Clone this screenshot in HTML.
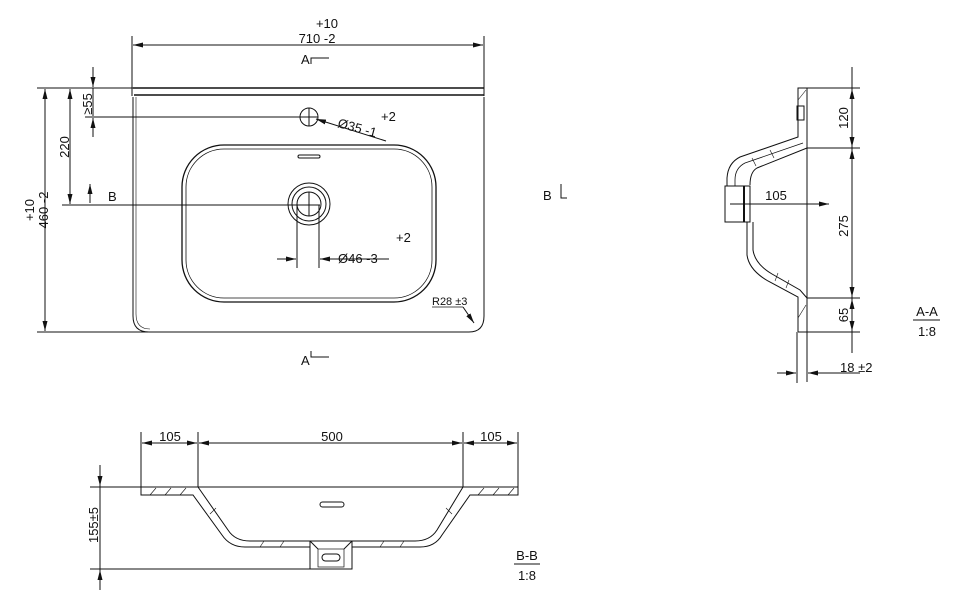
<!DOCTYPE html>
<html><head><meta charset="utf-8"><style>
html,body{margin:0;padding:0;background:#fff;}
svg{display:block;}
text{font-family:"Liberation Sans",sans-serif;fill:#111;}
</style></head><body>
<svg width="962" height="609" viewBox="0 0 962 609" xmlns="http://www.w3.org/2000/svg">
<defs>
<marker id="ar" viewBox="0 0 10 6" refX="10" refY="3" markerWidth="10" markerHeight="6" orient="auto-start-reverse" markerUnits="userSpaceOnUse"><path d="M0,0.5 L10,3 L0,5.5z" fill="#111"/></marker>
</defs>
<g fill="none" stroke="#111" stroke-width="1">
<!-- PLAN VIEW -->
<line x1="132" y1="36" x2="132" y2="96"/><line x1="484" y1="36" x2="484" y2="96"/>
<line x1="133" y1="45" x2="483" y2="45" marker-start="url(#ar)" marker-end="url(#ar)"/>
<path d="M311,64 V58 H329"/>
<line x1="133" y1="88" x2="484" y2="88" stroke-width="1.5"/>
<line x1="134" y1="95" x2="484" y2="95" stroke-width="1.5"/>
<path d="M133,97 V316 Q133,332 149,332 H469 Q484,332 484,316 V97"/>
<path d="M136,97 V314 Q136,329 150,329" stroke-width="0.6"/>
<rect x="182" y="145" width="254" height="157" rx="42" stroke-width="1.3"/>
<rect x="186" y="149" width="246" height="149" rx="38" stroke-width="0.8"/>
<rect x="298" y="155" width="22" height="3" rx="1.5"/>
<circle cx="309" cy="117" r="9"/>
<line x1="300" y1="117" x2="318" y2="117"/><line x1="309" y1="108" x2="309" y2="126"/>
<circle cx="309" cy="204" r="21"/><circle cx="309" cy="204" r="17"/><circle cx="309" cy="204" r="12"/>
<line x1="309" y1="192" x2="309" y2="216"/>
<!-- left dims -->
<line x1="37" y1="88" x2="133" y2="88"/><line x1="37" y1="332" x2="148" y2="332"/>
<line x1="45" y1="89" x2="45" y2="331" marker-start="url(#ar)" marker-end="url(#ar)"/>
<line x1="70" y1="89" x2="70" y2="204" marker-start="url(#ar)" marker-end="url(#ar)"/>
<line x1="62" y1="205" x2="320" y2="205"/>
<line x1="93" y1="67" x2="93" y2="87" marker-end="url(#ar)"/>
<line x1="93" y1="137" x2="93" y2="118" marker-end="url(#ar)"/>
<line x1="93" y1="88" x2="93" y2="116"/>
<line x1="85" y1="117" x2="309" y2="117"/>
<line x1="90" y1="203" x2="90" y2="184" marker-end="url(#ar)"/>
<line x1="386" y1="141" x2="316" y2="119" marker-end="url(#ar)"/>
<line x1="297" y1="205" x2="297" y2="268"/><line x1="319" y1="205" x2="319" y2="268"/>
<line x1="277" y1="259" x2="296" y2="259" marker-end="url(#ar)"/>
<line x1="389" y1="259" x2="320" y2="259" marker-end="url(#ar)"/>
<line x1="432" y1="307" x2="463" y2="307" stroke-width="0.7"/>
<line x1="463" y1="307" x2="474" y2="323" marker-end="url(#ar)"/>
<path d="M311,351 V357 H329"/>
<path d="M561,184 V198 H567"/>

<!-- SIDE VIEW A-A -->
<line x1="852" y1="67" x2="852" y2="353"/>
<g marker-start="url(#ar)" marker-end="url(#ar)">
<line x1="852" y1="89" x2="852" y2="147"/>
<line x1="852" y1="149" x2="852" y2="297"/>
<line x1="852" y1="299" x2="852" y2="331"/>
</g>
<line x1="798" y1="88" x2="860" y2="88"/><line x1="807" y1="148" x2="860" y2="148"/>
<line x1="807" y1="298" x2="860" y2="298"/><line x1="798" y1="332" x2="860" y2="332"/>
<line x1="807" y1="88" x2="807" y2="382"/><line x1="797" y1="332" x2="797" y2="383"/>
<path d="M807,88 H798 V137 L740,157 Q728,163 727,178 V186"/>
<path d="M803,143 L745,163 Q735,168 735,180 V186" stroke-width="0.8"/>
<path d="M807,148 L757,168 Q750,172 750,185"/>
<rect x="797" y="106" width="7" height="14"/>
<path d="M725,186 H750 V222 H725 Z"/>
<line x1="744" y1="186" x2="744" y2="222" stroke-width="2"/>
<path d="M747,222 V255 Q749,270 768,281 L798,297 V332"/>
<path d="M753,222 V250 Q755,264 772,274 L800,290 L807,298"/>
<g stroke-width="0.6"><line x1="798" y1="100" x2="806" y2="90"/><line x1="798" y1="318" x2="806" y2="305"/><line x1="770" y1="150" x2="774" y2="158"/><line x1="752" y1="158" x2="756" y2="166"/><line x1="775" y1="281" x2="778" y2="273"/><line x1="786" y1="288" x2="789" y2="280"/></g>
<line x1="730" y1="204" x2="829" y2="204" marker-end="url(#ar)"/>
<line x1="777" y1="373" x2="796" y2="373" marker-end="url(#ar)"/>
<line x1="860" y1="373" x2="808" y2="373" marker-end="url(#ar)"/>
<line x1="913" y1="320" x2="940" y2="320"/>

<!-- SECTION B-B -->
<line x1="141" y1="432" x2="141" y2="487"/><line x1="198" y1="432" x2="198" y2="487"/>
<line x1="463" y1="432" x2="463" y2="487"/><line x1="518" y1="432" x2="518" y2="487"/>
<line x1="142" y1="443" x2="197" y2="443" marker-start="url(#ar)" marker-end="url(#ar)"/>
<line x1="199" y1="443" x2="462" y2="443" marker-start="url(#ar)" marker-end="url(#ar)"/>
<line x1="464" y1="443" x2="517" y2="443" marker-start="url(#ar)" marker-end="url(#ar)"/>
<line x1="90" y1="487" x2="518" y2="487"/>
<path d="M141,487 V495 H193 L222,535 Q230,547 245,547 H310"/>
<path d="M198,487 L228,530 Q235,541 250,541 H415 Q430,541 437,530 L463,487"/>
<path d="M352,547 H420 Q435,547 442,535 L470,495 H518 V487"/>
<path d="M310,541 V569 H352 V541"/>
<line x1="310" y1="541" x2="318" y2="549"/><line x1="352" y1="541" x2="344" y2="549"/>
<rect x="318" y="549" width="26" height="18" stroke-width="0.7"/>
<rect x="322" y="554" width="18" height="7" rx="3.5"/>
<rect x="320" y="502" width="24" height="5" rx="2.5"/>
<g stroke-width="0.6"><line x1="150" y1="495" x2="156" y2="488"/><line x1="165" y1="495" x2="171" y2="488"/><line x1="180" y1="495" x2="186" y2="488"/><line x1="478" y1="495" x2="484" y2="488"/><line x1="493" y1="495" x2="499" y2="488"/><line x1="508" y1="495" x2="514" y2="488"/><line x1="260" y1="547" x2="264" y2="541"/><line x1="280" y1="547" x2="284" y2="541"/><line x1="380" y1="547" x2="384" y2="541"/><line x1="400" y1="547" x2="404" y2="541"/><line x1="210" y1="514" x2="216" y2="508"/><line x1="452" y1="514" x2="446" y2="508"/></g>
<line x1="90" y1="569" x2="312" y2="569"/>
<line x1="100" y1="465" x2="100" y2="590"/>
<line x1="100" y1="465" x2="100" y2="486" marker-end="url(#ar)"/>
<line x1="100" y1="590" x2="100" y2="570" marker-end="url(#ar)"/>
<line x1="514" y1="564" x2="540" y2="564"/>
</g>
<g font-size="13">
<text x="327" y="28" text-anchor="middle">+10</text>
<text x="317" y="43" text-anchor="middle">710 -2</text>
<text x="301" y="64">A</text>
<text x="301" y="365">A</text>
<text x="108" y="201">B</text>
<text x="543" y="200">B</text>
<text transform="translate(34,210) rotate(-90)" text-anchor="middle">+10</text>
<text transform="translate(48,210) rotate(-90)" text-anchor="middle">460 -2</text>
<text transform="translate(69,147) rotate(-90)" text-anchor="middle">220</text>
<text transform="translate(92,104) rotate(-90)" text-anchor="middle">≥55</text>
<text x="381" y="121">+2</text>
<text transform="translate(337,127) rotate(15)">Ø35 -1</text>
<text x="396" y="242">+2</text>
<text x="338" y="263">Ø46 -3</text>
<text x="776" y="200" text-anchor="middle">105</text>
<text transform="translate(848,118) rotate(-90)" text-anchor="middle">120</text>
<text transform="translate(848,226) rotate(-90)" text-anchor="middle">275</text>
<text transform="translate(848,315) rotate(-90)" text-anchor="middle">65</text>
<text x="840" y="372">18 ±2</text>
<text x="927" y="316" text-anchor="middle">A-A</text>
<text x="927" y="336" text-anchor="middle">1:8</text>
<text x="170" y="441" text-anchor="middle">105</text>
<text x="332" y="441" text-anchor="middle">500</text>
<text x="491" y="441" text-anchor="middle">105</text>
<text transform="translate(98,525) rotate(-90)" text-anchor="middle">155±5</text>
<text x="527" y="560" text-anchor="middle">B-B</text>
<text x="527" y="580" text-anchor="middle">1:8</text>
</g>
<text x="432" y="305" font-family="Liberation Serif,serif" font-size="11">R28 ±3</text>
</svg>
</body></html>
